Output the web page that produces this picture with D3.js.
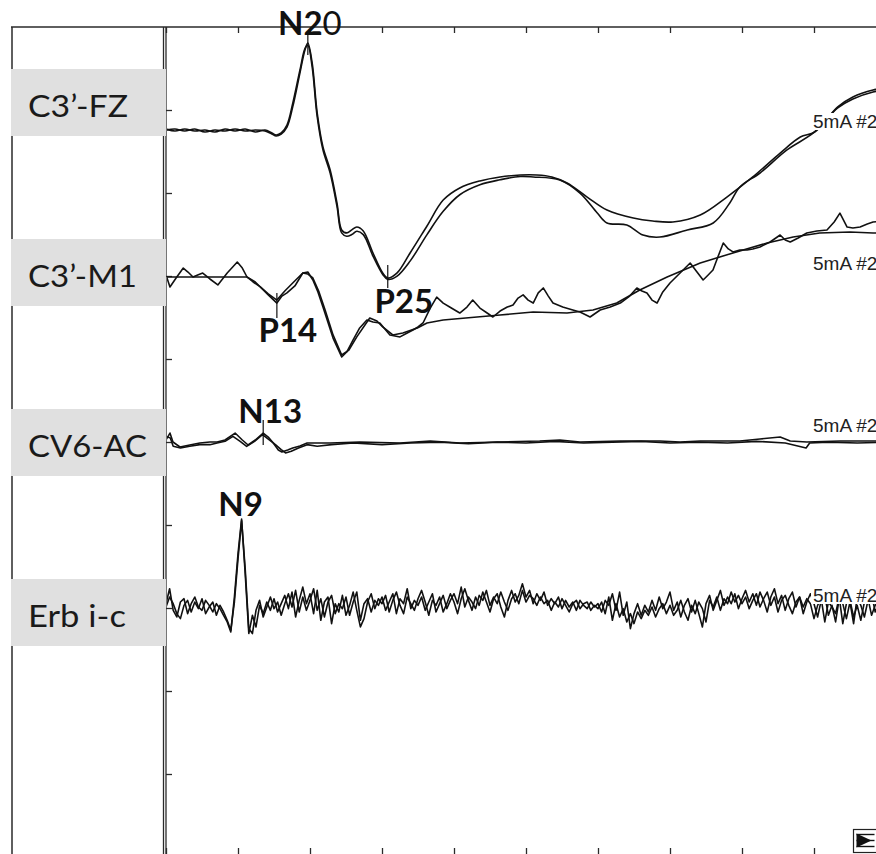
<!DOCTYPE html>
<html>
<head>
<meta charset="utf-8">
<script src="https://cdn.jsdelivr.net/npm/d3@7"></script>
<style>
  html, body { margin: 0; padding: 0; background: #fff; }
  svg { display: block; }
</style>
</head>
<body>
<svg id="chart" width="876" height="854"></svg>
<script>
// ---- data -------------------------------------------------------------
const channelNames = ["C3’-FZ", "C3’-M1", "CV6-AC", "Erb i-c"];
const stimulusLabel = "5mA #2";
const timeTicksMs = [0, 10, 20, 30, 40, 50, 60, 70, 80, 90];
const ampTicksDiv = [1, 2, 3, 4, 5, 6, 7, 8, 9];

// [latency ms, amplitude µV] – two averaged runs per channel
const fzRunA = [[0,0],[1.25,0.06],[2.6,-0.06],[4.0,0.06],[5.4,-0.12],[6.8,0],[8.2,-0.06],[9.6,0.06],[11.0,-0.06],[12.4,0],[13.75,-0.06],[14.7,-0.24],[15.3,-0.36],[16.0,-0.24],[16.8,0.18],[17.6,1.39],[18.6,3.43],[19.3,4.82],[19.7,5.24],[20.3,4.04],[21.0,1.02],[21.8,-1.02],[22.8,-2.41],[23.75,-4.40],[24.4,-6.02],[25.1,-6.20],[25.8,-6.02],[26.5,-5.84],[27.4,-6.08],[28.75,-7.41],[30.1,-8.61],[30.8,-8.92],[32.1,-8.61],[33.9,-7.41],[36.25,-5.78],[38.5,-4.22],[40.8,-3.49],[43.6,-3.07],[46.4,-2.83],[49.2,-2.71],[51.5,-2.71],[53.6,-2.83],[55.7,-3.19],[58.5,-4.04],[61.25,-4.82],[64.9,-5.30],[67.6,-5.48],[70.4,-5.54],[74.2,-5.12],[77.9,-4.04],[81.5,-2.83],[85.3,-1.39],[88.1,-0.42],[90.1,-0.12],[93.3,1.39],[95.4,1.99],[98.2,2.41],[100,2.53]];
const fzRunB = [[0,0.06],[1.25,-0.06],[2.6,0.06],[4.0,-0.06],[5.4,0],[6.8,-0.12],[8.2,0.06],[9.6,-0.06],[11.0,0.06],[12.4,-0.12],[13.75,0],[14.7,-0.18],[15.3,-0.30],[16.0,-0.18],[16.8,0.30],[17.6,1.6],[18.6,3.6],[19.3,4.9],[19.7,5.1],[20.3,3.8],[21.0,0.8],[21.8,-1.2],[22.8,-2.6],[23.75,-4.6],[24.4,-6.2],[25.1,-6.4],[25.8,-6.3],[26.5,-6.1],[27.4,-6.3],[28.75,-7.6],[30.1,-8.7],[30.8,-9.0],[32.1,-8.8],[33.9,-7.9],[36.25,-6.3],[38.5,-4.9],[40.8,-3.9],[43.6,-3.3],[46.4,-3.0],[49.2,-2.8],[51.0,-2.83],[54.7,-3.01],[57.5,-3.80],[59.9,-5.0],[61.25,-5.6],[64.0,-5.72],[66.25,-6.33],[68.6,-6.45],[72.4,-6.02],[76.0,-5.60],[78.3,-4.40],[79.7,-3.43],[82.5,-2.59],[86.25,-1.20],[89.9,-0.18],[93.3,1.33],[95.4,1.87],[98.2,2.29],[100,2.41]];

const m1RunA = [[0,-0.12],[4.7,-0.12],[11.25,-0.12],[12.4,-0.42],[13.1,-0.72],[14.2,-1.14],[15.4,-1.51],[16.5,-0.96],[17.6,-0.48],[19.0,0.12],[19.7,0.06],[20.4,-0.18],[21.25,-1.02],[22.1,-2.11],[23.2,-3.61],[24.4,-4.82],[25.4,-4.52],[26.5,-3.73],[28.3,-2.59],[29.3,-2.77],[30.1,-3.13],[31.5,-3.61],[32.9,-3.49],[34.9,-3.19],[36.25,-2.89],[38.5,-2.71],[43.2,-2.53],[46.4,-2.41],[51.0,-2.23],[55.7,-2.29],[59.3,-2.11],[62.6,-1.69],[65.8,-0.90],[69.6,-0.12],[74.2,0.72],[78.75,1.33],[83.5,1.93],[87.1,2.29],[90.8,2.53],[95.0,2.59],[98.2,2.53],[100,2.53]];
const m1RunB = [[0,0],[0.55,-0.72],[1.4,-0.18],[2.4,0.42],[3.05,0.18],[3.75,-0.12],[4.4,0],[5.1,0.12],[6.1,-0.24],[7.2,-0.60],[8.5,0.12],[9.9,0.78],[10.6,0.42],[11.25,-0.12],[12.1,-0.42],[13.1,-0.72],[14.2,-1.20],[15.4,-1.69],[16.1,-1.27],[16.8,-1.08],[17.9,-0.66],[19.0,0.12],[19.7,0.18],[20.4,-0.30],[21.1,-1.02],[21.8,-1.93],[23.2,-3.80],[24.4,-4.94],[25.1,-4.64],[25.97,-3.92],[26.9,-3.19],[27.9,-2.71],[28.75,-2.83],[29.7,-2.89],[30.4,-3.25],[31.1,-3.61],[32.5,-3.73],[33.5,-3.49],[34.3,-3.31],[35.0,-3.13],[35.7,-2.89],[36.7,-1.99],[37.6,-1.33],[38.5,-1.69],[39.4,-1.93],[40.8,-2.29],[41.8,-1.93],[42.6,-1.51],[43.6,-1.99],[44.6,-2.29],[45.4,-2.53],[46.4,-2.17],[47.4,-1.93],[48.2,-1.81],[48.9,-1.39],[49.6,-1.20],[50.3,-1.51],[51.0,-1.69],[51.7,-1.08],[52.4,-0.78],[53.1,-1.27],[53.75,-1.69],[55.1,-1.93],[56.5,-2.11],[57.5,-2.23],[58.9,-2.53],[60.3,-2.11],[61.7,-1.93],[63.1,-1.69],[64.4,-1.27],[65.4,-0.78],[66.1,-0.96],[66.8,-1.08],[67.5,-1.51],[68.2,-1.69],[69.0,-1.02],[70.0,-0.48],[71.4,0.12],[72.8,0.72],[73.75,0.18],[74.6,-0.30],[75.3,0],[75.97,0.30],[76.7,1.14],[77.4,1.93],[78.1,1.57],[78.75,1.39],[79.7,1.51],[80.7,1.51],[81.5,1.57],[82.5,1.69],[83.9,1.99],[85.3,2.41],[86.0,2.11],[86.7,1.99],[87.8,2.23],[89.0,2.53],[90.4,2.65],[91.8,2.71],[92.8,3.19],[93.6,3.73],[94.6,2.89],[95.4,2.83],[96.4,2.89],[97.4,3.07],[98.2,3.19],[100,3.25]];

const cv6RunA = [[0,0.18],[0.55,0.60],[0.97,0.06],[1.94,-0.24],[3.3,-0.12],[4.7,0],[6.1,0.06],[7.1,0.06],[8.2,0.18],[9.6,0.60],[10.6,0.18],[11.4,-0.12],[12.4,0.18],[13.5,0.60],[14.2,0.36],[14.9,0],[15.6,-0.42],[16.1,-0.54],[16.9,-0.42],[17.6,-0.30],[18.6,-0.18],[19.6,0],[22.8,0],[26.9,0.06],[32.5,0],[36.7,0.12],[40.8,0],[46.4,0.06],[51.9,0.12],[54.7,0.18],[57.5,0.06],[63.1,0.12],[68.6,0.12],[71.4,0.06],[74.2,0.12],[79.7,0.12],[82.5,0.24],[85.3,0.36],[86.7,0.12],[89.0,0.06],[93.6,0.12],[100,0.12]];
const cv6RunB = [[0,0.4],[0.6,0.3],[1.0,-0.2],[2.0,-0.3],[3.3,-0.2],[4.7,-0.1],[6.1,-0.1],[7.1,0],[8.2,0.1],[9.3,0.4],[10.3,0.1],[11.2,-0.2],[12.3,0.1],[13.4,0.5],[14.3,0.2],[15.2,-0.1],[16.0,-0.4],[16.6,-0.6],[17.4,-0.5],[18.4,-0.3],[19.6,-0.1],[21.0,-0.2],[23.0,-0.1],[26.0,0],[30.0,-0.1],[34.0,0],[38.0,0.05],[42.0,-0.05],[46.0,0.05],[50.0,0],[54.0,0.1],[58.0,0],[62.0,0.05],[66.0,0.1],[70.0,0],[74.0,0.05],[78.0,0],[82.0,0.1],[86.0,0],[88.9,-0.3],[89.4,0],[92.0,0.05],[96.0,0],[100,0.05]];

// Erb point: µV sampled every 0.5 ms from 0 to 100 ms
const erbSampleMs = 0.5;
const erbRunA = [
  0.2, 1.1,-0.2,-0.6, 0.3, 0.5,-0.4, 0.2, 0.6, 0.0,-0.2, 0.4, 0.1,-0.3, 0.2,-0.1,-0.5,-0.9,-1.5, 0.6,
  3.2, 5.3, 2.0,-1.6,-0.5,-1.2, 0.1,-0.4, 0.3,-0.2, 0.5,-0.3, 0.2, 0.7,-0.1, 0.9,-0.6, 0.4, 1.2, 0.2,
  0.8,-0.4, 1.0,-0.8, 0.3, 0.6,-1.0, 0.2,-0.3, 0.7,-0.5, 0.1, 0.9,-0.2,-1.2,-0.7, 0.3, 0.8,-0.1, 0.5,
  0.2, 0.7,-0.3, 0.4, 0.9, 0.1,-0.4, 0.6, 0.2,-0.2, 0.5, 1.0, 0.3,-0.5, 0.4, 0.1, 0.6,-0.3, 0.2, 0.8,
  0.3,-0.4, 0.5, 1.1, 0.4,-0.2, 0.6, 0.1, 0.9, 0.3,-0.3, 0.5, 0.8, 0.0,-0.6, 0.4, 1.0, 0.3, 0.7, 1.4,
  0.6, 1.0, 0.2, 0.8, 0.4, 0.9, 0.1, 0.5, 0.2, 0.6,-0.1, 0.4, 0.0, 0.3,-0.2, 0.4, 0.1,-0.1, 0.3, 0.0,
  0.2,-0.3, 0.4, 0.1, 0.8,-0.2, 0.9,-0.5, 0.3,-1.3,-0.4, 0.2,-0.5, 0.1,-0.3, 0.4,-0.2, 0.6,-0.1, 0.3,
  0.9,-0.2, 0.3,-0.6, 0.1, 0.5,-0.3, 0.4,-0.4,-1.2, 0.2, 0.7,-0.2, 0.4, 1.0, 0.1, 0.6, 0.2, 0.8,-0.1,
  0.5, 1.0, 0.3, 0.8, 0.1, 0.9, 0.4,-0.3, 0.6, 1.1, 0.2, 0.7,-0.2, 0.5, 0.9, 0.0, 0.6,-0.4, 0.3, 0.8,
  0.2,-0.6, 0.4, 0.7,-0.5, 0.1,-0.9, 0.5, 0.2,-0.7, 0.3,-1.0, 0.6, 0.1,-0.6, 0.4, 0.8,-0.3, 0.2, 0.5,
  0.1];
const erbRunB = [
  0.0, 0.6, 0.2,-0.4,-0.7, 0.1, 0.4,-0.3, 0.3,-0.1, 0.5,-0.4, 0.0, 0.3,-0.5, 0.1,-0.3,-0.8,-1.4, 0.3,
  2.9, 5.2, 2.3,-1.3,-1.6,-0.2, 0.4,-0.6, 0.0, 0.6,-0.1, 0.3,-0.5, 0.2, 0.8, 0.0, 1.0,-0.3, 0.6,-0.2,
  0.4, 1.1,-0.2, 0.5,-0.6, 0.3, 0.7,-0.4, 0.2,-0.1, 0.6,-0.5, 0.3, 0.9,-0.8, 0.2, 0.5,-0.3, 0.4, 0.1,
  0.6,-0.2, 0.3, 0.8,-0.4, 0.5, 0.2, 1.1,-0.1, 0.4, 0.1, 0.6,-0.2, 0.3, 0.8,-0.3, 0.2, 0.7,-0.1, 0.4,
  0.8, 0.2, 1.2, 0.0, 0.6, 0.3,-0.1, 0.7, 0.4, 1.0, 0.1, 0.6, 0.2, 0.9, 0.3,-0.2, 0.5, 0.8, 0.2, 1.0,
  0.3, 0.7, 0.5, 0.1, 0.6, 0.2, 0.4,-0.2, 0.3, 0.0, 0.5, 0.1,-0.3, 0.2, 0.4,-0.1, 0.2, 0.3,-0.2, 0.1,
 -0.1, 0.3,-0.4, 0.6,-0.8, 0.2,-0.6,-0.1,-0.9,-0.4,-1.0,-0.3,-0.7,-0.2,-0.5, 0.0,-0.6,-0.1, 0.2,-0.4,
  0.1,-0.5,-0.2, 0.4,-0.3,-0.8, 0.1,-0.4, 0.3,-0.1,-0.9, 0.4, 0.0, 0.6,-0.2, 0.5, 0.2, 0.9, 0.3, 0.7,
  0.2, 0.6,-0.1, 0.4, 0.8, 0.0, 0.5, 0.9, 0.1, 0.6,-0.3, 0.4, 0.7, 0.1,-0.4, 0.3, 0.6, 0.0, 0.5, 0.2,
 -0.7, 0.1, 0.5,-0.9, 0.3, 0.0,-0.4, 0.6,-1.0, 0.2, 0.4,-0.6, 0.1,-0.8, 0.3, 0.5,-0.5, 0.1, 0.6,-0.2,
  0.0];

// marked components
const peakNames = ["N20", "P25", "P14", "N13", "N9"];
const peakChannel = [0, 0, 1, 2, 3];
const peakLatencyMs = [19.7, 30.8, 15.4, 13.5, 10.5];

// ---- layout -----------------------------------------------------------
const W = 876, H = 854;
const frameTop = 27, panelLeft = 12, axisX = 166;
const uvPerDiv = 5;
const channelBaseDiv = [1.241, 2.988, 5.012, 6.988];
const labelBoxTop = [69, 239, 409, 579], labelBoxH = 67;
const labelWidths = [100, 109, 119, 98];
const stimLabelY = [128, 270, 432, 602];
// marker extent (px above/below the point) and label offset
const peakStyle = {
  N20: { up: 8,  down: 12, dx: 2,  dy: -8 },
  P25: { up: 13, down: 10, dx: 16, dy: 35 },
  P14: { up: 7,  down: 18, dx: 11, dy: 42 },
  N13: { up: 13, down: 12, dx: 7,  dy: -10 },
  N9:  { up: 0,  down: 0,  dx: -1, dy: -3 }
};
const ink = "#111";

const svg = d3.select("#chart");
svg.append("rect").attr("width", W).attr("height", H).attr("fill", "#fff");

const x = d3.scaleLinear().domain([0, 100]).range([axisX, axisX + 720]);
const yDiv = d3.scaleLinear().domain([0, 10]).range([frameTop, frameTop + 830]);
const yOf = (ch, v) => yDiv(channelBaseDiv[ch] - v / uvPerDiv);

// ---- frame ------------------------------------------------------------
const frame = svg.append("g").attr("stroke", "#2a2a2a").attr("fill", "none");
frame.append("line").attr("x1", panelLeft - 1).attr("x2", W).attr("y1", frameTop).attr("y2", frameTop).attr("stroke-width", 1.6);
frame.append("line").attr("x1", panelLeft).attr("x2", panelLeft).attr("y1", frameTop).attr("y2", H).attr("stroke-width", 1.5);
frame.append("line").attr("x1", axisX - 2.5).attr("x2", axisX - 2.5).attr("y1", frameTop).attr("y2", H).attr("stroke-width", 1.3);
frame.append("line").attr("x1", axisX).attr("x2", axisX).attr("y1", frameTop).attr("y2", H).attr("stroke-width", 1.3);

// time ticks top and bottom
const topAxis = svg.append("g").attr("transform", `translate(0,${frameTop})`)
  .call(d3.axisTop(x).tickValues(timeTicksMs).tickSize(-6).tickFormat(""));
const botAxis = svg.append("g").attr("transform", `translate(0,${H + 1})`)
  .call(d3.axisBottom(x).tickValues(timeTicksMs).tickSize(-7).tickFormat(""));
[topAxis, botAxis].forEach(g => {
  g.select(".domain").remove();
  g.selectAll(".tick line").attr("stroke", "#2a2a2a").attr("stroke-width", 1.3);
});

// amplitude division ticks
const ampAxis = svg.append("g").attr("transform", `translate(${axisX},0)`)
  .call(d3.axisRight(yDiv).tickValues(ampTicksDiv).tickSize(6).tickFormat(""));
ampAxis.select(".domain").remove();
ampAxis.selectAll(".tick line").attr("stroke", "#2a2a2a").attr("stroke-width", 1.3);

// ---- channel label boxes ------------------------------------------------
const labels = svg.append("g");
channelNames.forEach((name, i) => {
  labels.append("rect")
    .attr("x", panelLeft - 1).attr("y", labelBoxTop[i])
    .attr("width", axisX - panelLeft + 1).attr("height", labelBoxH)
    .attr("fill", "#e0e0e0");
  labels.append("text")
    .attr("x", 28).attr("y", labelBoxTop[i] + 48)
    .attr("font-family", "Lato, 'Open Sans', sans-serif")
    .attr("font-size", 30.5).attr("fill", "#1a1a1a")
    .attr("textLength", labelWidths[i]).attr("lengthAdjust", "spacingAndGlyphs")
    .text(name);
});

// ---- traces -------------------------------------------------------------
svg.append("defs").append("clipPath").attr("id", "plotClip")
  .append("rect").attr("x", axisX + 1).attr("y", frameTop + 1).attr("width", W - axisX).attr("height", H - frameTop);

const erbPairs = run => run.map((v, i) => [i * erbSampleMs, v]);
const channelRuns = [
  [fzRunA, fzRunB],
  [m1RunA, m1RunB],
  [cv6RunA, cv6RunB],
  [erbPairs(erbRunA), erbPairs(erbRunB)]
];

const traceG = svg.append("g").attr("clip-path", "url(#plotClip)");
channelRuns.forEach((runs, ch) => {
  const line = d3.line()
    .x(d => x(d[0]))
    .y(d => yOf(ch, d[1]))
    .curve(ch === 0 ? d3.curveCatmullRom.alpha(0.5) : d3.curveLinear);
  runs.forEach(run => {
    traceG.append("path").datum(run)
      .attr("d", line)
      .attr("fill", "none").attr("stroke", ink)
      .attr("stroke-width", 1.6).attr("stroke-linejoin", "round");
  });
});

// stimulus labels at the right end of each channel
channelNames.forEach((_, ch) => {
  const g = svg.append("g");
  g.append("rect").attr("x", 811).attr("y", stimLabelY[ch] - 15)
    .attr("width", W - 811).attr("height", 17).attr("fill", "#fff");
  g.append("text").attr("x", 813).attr("y", stimLabelY[ch])
    .attr("font-family", "'Liberation Sans', Arial, sans-serif")
    .attr("font-size", 19).attr("fill", "#222")
    .text(stimulusLabel);
});

// ---- peak markers and names ---------------------------------------------
function valueAt(run, t) {
  const i = d3.bisector(d => d[0]).left(run, t);
  if (i <= 0) return run[0][1];
  if (i >= run.length) return run[run.length - 1][1];
  const a = run[i - 1], b = run[i];
  return a[1] + (b[1] - a[1]) * (t - a[0]) / (b[0] - a[0]);
}

const peaksG = svg.append("g");
peakNames.forEach((name, k) => {
  const ch = peakChannel[k];
  const t = peakLatencyMs[k];
  const px = x(t);
  const py = yOf(ch, valueAt(channelRuns[ch][0], t));
  const st = peakStyle[name];
  if (st.up + st.down > 0) {
    peaksG.append("line")
      .attr("x1", px).attr("x2", px)
      .attr("y1", py - st.up).attr("y2", py + st.down)
      .attr("stroke", ink).attr("stroke-width", 1.2);
  }
  const txt = peaksG.append("text")
    .attr("x", px + st.dx).attr("y", py + st.dy)
    .attr("text-anchor", "middle")
    .attr("font-family", "Lato, 'Open Sans', sans-serif")
    .attr("font-size", 33).attr("font-weight", 700).attr("fill", "#111");
  if (name === "N20") {
    txt.append("tspan").text("N2");
    txt.append("tspan").attr("font-weight", 400).text("0");
  } else {
    txt.text(name);
  }
});

// ---- scroll button in the lower right corner -----------------------------
const btn = svg.append("g").attr("transform", "translate(853.5,829.5)");
btn.append("rect").attr("width", 24).attr("height", 23)
  .attr("fill", "#fff").attr("stroke", "#222").attr("stroke-width", 1.2);
btn.append("path").attr("d", "M3,4 L18,11 L3,18 Z").attr("fill", "#111");
[5, 11, 17].forEach(yy => btn.append("line")
  .attr("x1", 3).attr("x2", 21).attr("y1", yy).attr("y2", yy)
  .attr("stroke", "#111").attr("stroke-width", 1.4));
</script>
</body>
</html>
